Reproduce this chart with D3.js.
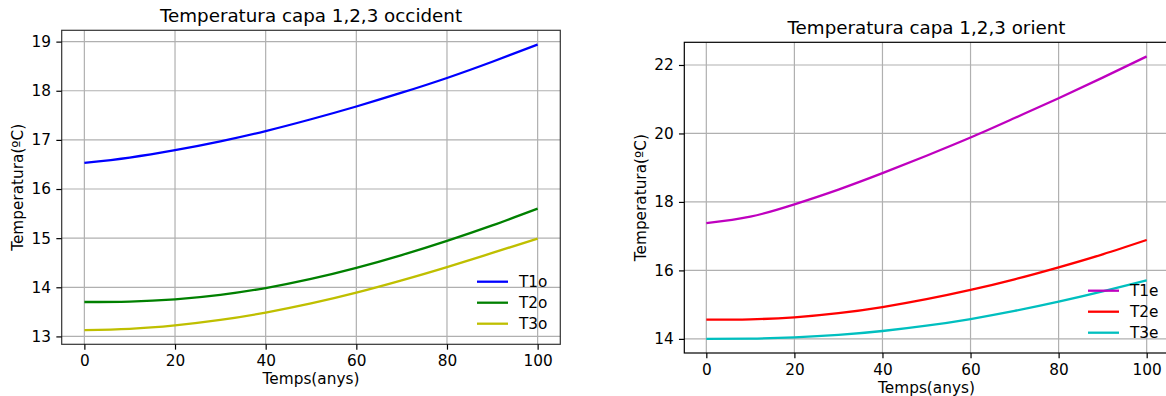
<!DOCTYPE html>
<html>
<head>
<meta charset="utf-8">
<script src="https://cdn.jsdelivr.net/npm/d3@7"></script>
<style>
  html, body { margin: 0; padding: 0; background: #fff; }
  svg { display: block; font-family: "DejaVu Sans", sans-serif; }
</style>
</head>
<body>
<svg id="chart" width="1166" height="396"></svg>
<script>
// Time axis (years)
const years = [0, 10, 20, 30, 40, 50, 60, 70, 80, 90, 100];
const xTicks = [0, 20, 40, 60, 80, 100];

// West facade layers (ºC)
const T1o = [16.53, 16.64, 16.79, 16.97, 17.18, 17.42, 17.68, 17.96, 18.26, 18.59, 18.94];
const T2o = [13.70, 13.71, 13.755, 13.845, 13.985, 14.17, 14.395, 14.655, 14.945, 15.26, 15.60];
const T3o = [13.13, 13.155, 13.225, 13.335, 13.485, 13.67, 13.89, 14.14, 14.41, 14.70, 14.99];
const yTicksWest = [13, 14, 15, 16, 17, 18, 19];

// East facade layers (ºC)
const T1e = [17.38, 17.57, 17.93, 18.36, 18.84, 19.35, 19.88, 20.45, 21.03, 21.63, 22.25];
const T2e = [14.56, 14.57, 14.63, 14.75, 14.93, 15.16, 15.43, 15.74, 16.09, 16.47, 16.89];
const T3e = [14.00, 14.01, 14.045, 14.115, 14.23, 14.385, 14.58, 14.815, 15.085, 15.385, 15.71];
const yTicksEast = [14, 16, 18, 20, 22];

const FONT = 15.3;
const TITLE_FONT = 18.3;
const TICK_LEN = 5.35;

const svg = d3.select("#chart");

function drawPanel(opts) {
  const { box, title, series, yTicks, legend } = opts;
  const g = svg.append("g");

  const x = d3.scaleLinear().domain([-5, 105]).range([box.left, box.right]);
  const all = series.flatMap(s => s.values);
  const lo = d3.min(all), hi = d3.max(all), pad = (hi - lo) * 0.05;
  const y = d3.scaleLinear().domain([lo - pad, hi + pad]).range([box.bottom, box.top]);

  // grid
  const grid = g.append("g").attr("stroke", "#b0b0b0").attr("stroke-width", 1.2);
  grid.selectAll(".gx").data(xTicks).join("line")
    .attr("x1", d => x(d)).attr("x2", d => x(d))
    .attr("y1", box.top).attr("y2", box.bottom);
  grid.selectAll(".gy").data(yTicks).join("line")
    .attr("x1", box.left).attr("x2", box.right)
    .attr("y1", d => y(d)).attr("y2", d => y(d));

  // series lines
  const line = d3.line()
    .x((d, i) => x(years[i]))
    .y(d => y(d))
    .curve(d3.curveNatural);
  series.forEach(s => {
    g.append("path")
      .attr("d", line(s.values))
      .attr("fill", "none")
      .attr("stroke", s.color)
      .attr("stroke-width", 2.3);
  });

  // frame
  g.append("rect")
    .attr("x", box.left).attr("y", box.top)
    .attr("width", box.right - box.left).attr("height", box.bottom - box.top)
    .attr("fill", "none").attr("stroke", box.frame).attr("stroke-width", 1.2);

  // axes
  const xAxis = d3.axisBottom(x).tickValues(xTicks).tickFormat(d3.format("d"))
    .tickSize(TICK_LEN).tickPadding(TICK_LEN);
  const yAxis = d3.axisLeft(y).tickValues(yTicks).tickFormat(d3.format("d"))
    .tickSize(TICK_LEN).tickPadding(TICK_LEN);
  const gx = g.append("g").attr("transform", `translate(0,${box.bottom})`).call(xAxis);
  const gy = g.append("g").attr("transform", `translate(${box.left},0)`).call(yAxis);
  [gx, gy].forEach(a => {
    a.select(".domain").remove();
    a.selectAll("text").attr("font-size", FONT).attr("fill", "#000")
      .attr("font-family", "DejaVu Sans, sans-serif");
    a.selectAll("line").attr("stroke", "#000").attr("stroke-width", 1.2);
  });

  // labels
  g.append("text")
    .attr("x", (box.left + box.right) / 2).attr("y", box.top - 8.3)
    .attr("text-anchor", "middle").attr("font-size", TITLE_FONT).attr("fill", "#000")
    .text(title);
  g.append("text")
    .attr("x", (box.left + box.right) / 2).attr("y", box.bottom + 40)
    .attr("text-anchor", "middle").attr("font-size", FONT).attr("fill", "#000")
    .text("Temps(anys)");
  g.append("text")
    .attr("transform", `translate(${box.left - 38.5},${(box.top + box.bottom) / 2}) rotate(-90)`)
    .attr("text-anchor", "middle").attr("font-size", FONT).attr("fill", "#000")
    .text("Temperatura(ºC)");

  // legend
  const lg = g.append("g");
  series.forEach((s, i) => {
    const yy = legend.y + i * 21;
    lg.append("line")
      .attr("x1", legend.x).attr("x2", legend.x + 31)
      .attr("y1", yy).attr("y2", yy)
      .attr("stroke", s.color).attr("stroke-width", 2.3);
    lg.append("text")
      .attr("x", legend.x + 42).attr("y", yy).attr("dy", "0.36em")
      .attr("font-size", FONT).attr("fill", "#000")
      .text(s.name);
  });
}

drawPanel({
  box: { left: 61.7, right: 560.3, top: 30.3, bottom: 344.3, frame: "#333" },
  title: "Temperatura capa 1,2,3 occident",
  series: [
    { name: "T1o", values: T1o, color: "#0000ff" },
    { name: "T2o", values: T2o, color: "#008000" },
    { name: "T3o", values: T3o, color: "#bfbf00" }
  ],
  yTicks: yTicksWest,
  legend: { x: 477, y: 281.7 }
});

drawPanel({
  box: { left: 684.3, right: 1168.7, top: 42.3, bottom: 353, frame: "#000" },
  title: "Temperatura capa 1,2,3 orient",
  series: [
    { name: "T1e", values: T1e, color: "#bf00bf" },
    { name: "T2e", values: T2e, color: "#ff0000" },
    { name: "T3e", values: T3e, color: "#00bfbf" }
  ],
  yTicks: yTicksEast,
  legend: { x: 1088, y: 290.7 }
});
</script>
</body>
</html>
